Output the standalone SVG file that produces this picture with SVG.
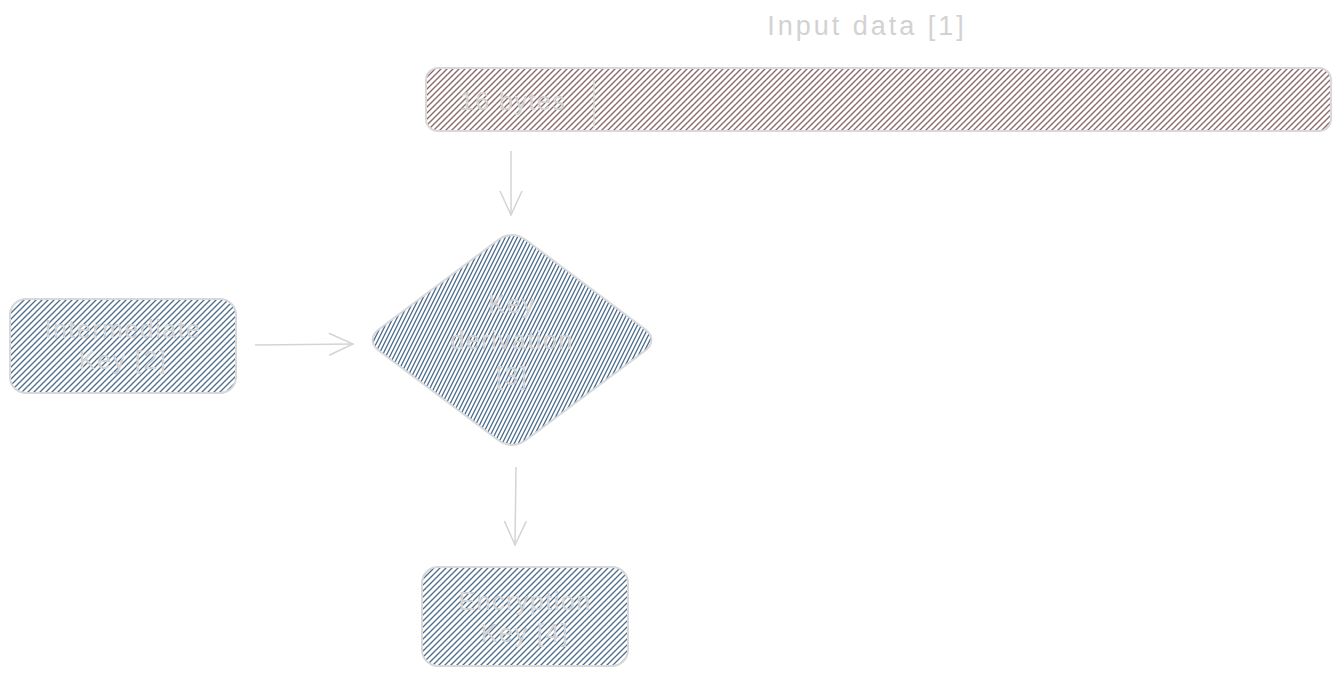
<svg xmlns="http://www.w3.org/2000/svg" width="1339" height="676" viewBox="0 0 1339 676">
<defs>
<pattern id="hatchRed" patternUnits="userSpaceOnUse" width="6" height="6">
<rect width="6" height="6" fill="#ffffff"/>
<path d="M-1,1 L1,-1 M0,6 L6,0 M5,7 L7,5" stroke="#8a6c6c" stroke-width="1.4"/>
</pattern>
<pattern id="hatchBlue" patternUnits="userSpaceOnUse" width="6" height="6">
<rect width="6" height="6" fill="#ffffff"/>
<path d="M-1,1 L1,-1 M0,6 L6,0 M5,7 L7,5" stroke="#4d6d8d" stroke-width="1.3"/>
</pattern>
<pattern id="hatchBlueSteep" patternUnits="userSpaceOnUse" width="4" height="8">
<rect width="4" height="8" fill="#ffffff"/>
<path d="M-1,2 L1,-2 M0,8 L4,0 M3,10 L5,6" stroke="#4d6d8d" stroke-width="1.3"/>
</pattern>
<marker id="arrow" markerWidth="30" markerHeight="30" refX="25" refY="12" orient="auto" markerUnits="userSpaceOnUse">
<path d="M1,1 L25,12 L1,23" fill="none" stroke="#d4d4d4" stroke-width="1.5"/>
</marker>
</defs>
<style>
.shape{stroke:#d8d8d8;stroke-width:2}
.lbl{font-family:"Liberation Sans",Arial,sans-serif;fill:#d2d2d2;text-anchor:middle;font-size:25px;letter-spacing:1.5px}
.conn{stroke:#d4d4d4;stroke-width:1.5;fill:none}
</style>
<rect width="1339" height="676" fill="#ffffff"/>
<g id="title">
<text class="lbl" x="867" y="35" style="font-size:27px;letter-spacing:3px">Input data [1]</text>
</g>
<g id="input-bar">
<rect class="shape" x="426" y="68" width="905" height="63" rx="12" fill="url(#hatchRed)"/>
<line x1="594" y1="80" x2="594" y2="128" stroke="#d8d8d8" stroke-width="1.5"/>
<text class="lbl" x="513" y="110">16 bytes</text>
</g>
<g id="intermediate-key">
<rect class="shape" x="10" y="299" width="226" height="94" rx="16" fill="url(#hatchBlue)"/>
<text class="lbl" x="123" y="338">Intermediate</text>
<text class="lbl" x="123" y="369">Key [2]</text>
</g>
<g id="key-derivation">
<path class="shape" d="M498,240 Q512,230 526,240 L646,330 Q657,340 646,350 L526,440 Q512,450 498,440 L378,350 Q367,340 378,330 Z" fill="url(#hatchBlueSteep)"/>
<text class="lbl" x="512" y="313">Key</text>
<text class="lbl" x="512" y="349">derivation</text>
<text class="lbl" x="512" y="385">[3]</text>
</g>
<g id="encryption-key">
<rect class="shape" x="422" y="567" width="206" height="99" rx="16" fill="url(#hatchBlue)"/>
<text class="lbl" x="525" y="610">Encryption</text>
<text class="lbl" x="525" y="642">Key [4]</text>
</g>
<g id="connectors">
<line class="conn" x1="511" y1="151" x2="511" y2="215" marker-end="url(#arrow)"/>
<line class="conn" x1="255" y1="345" x2="353" y2="344" marker-end="url(#arrow)"/>
<line class="conn" x1="516" y1="467" x2="515" y2="545" marker-end="url(#arrow)"/>
</g>
</svg>
